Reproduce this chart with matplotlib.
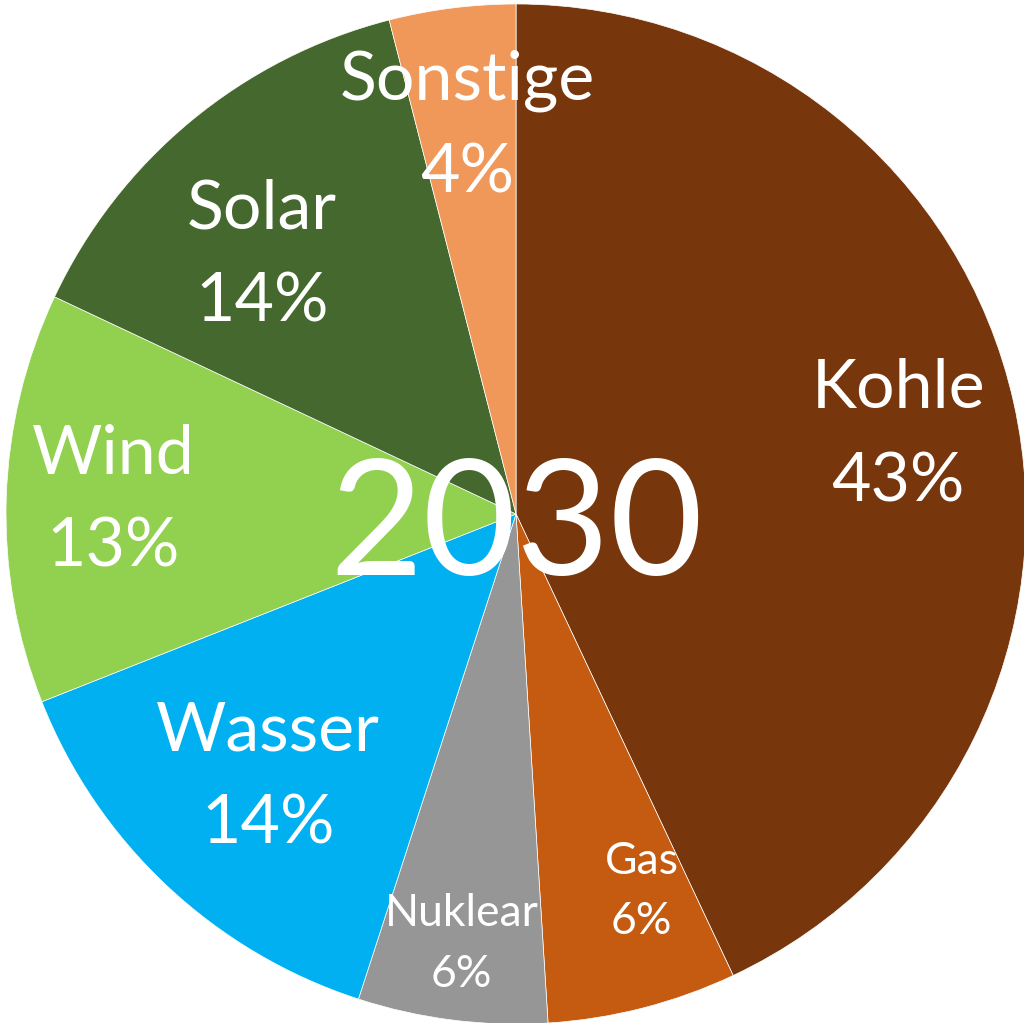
import numpy as np
import matplotlib.pyplot as plt

plt.rcParams['font.family'] = ['Lato', 'DejaVu Sans']

# data
labels = ['Kohle', 'Gas', 'Nuklear', 'Wasser', 'Wind', 'Solar', 'Sonstige']
shares = [43, 6, 6, 14, 13, 14, 4]
colors = ['#77360C', '#C55A11', '#969696', '#00B0F0', '#92D050', '#45682E', '#F0985A']
year = '2030'

# label placement (radius fraction, angle offset in deg) and font size
label_r = [0.765, 0.78, 0.85, 0.71, 0.79, 0.71, 0.765]
label_off = [1, -4, 0, 0, 0, -5, 0]
label_fs = [49, 32, 32, 49, 49, 49, 49]

fig = plt.figure(figsize=(10.24, 10.23), dpi=100)
ax = fig.add_axes([0, 0, 1, 1])

wedges, _ = ax.pie(shares, colors=colors, startangle=90, counterclock=False,
                   radius=1.0, wedgeprops=dict(edgecolor='white', linewidth=0.5))

total = sum(shares)
cum = 0
for lab, s, r, off, fs in zip(labels, shares, label_r, label_off, label_fs):
    mid = (cum + s / 2) / total * 360 + off  # clockwise from top
    cum += s
    a = np.deg2rad(90 - mid)
    ls = 1.62 if fs > 40 else 1.6
    ax.text(r * np.cos(a), r * np.sin(a), f'{lab}\n{s}%', ha='center', va='center',
            color='white', fontsize=fs, linespacing=ls)

ax.text(0, -0.03, year, ha='center', va='center', color='white', fontsize=116)

ax.set_xlim(-1.0118, 0.996)
ax.set_ylim(-0.998, 1.0078)
ax.set_aspect('auto')
ax.axis('off')

fig.savefig('out.png', dpi=100)
